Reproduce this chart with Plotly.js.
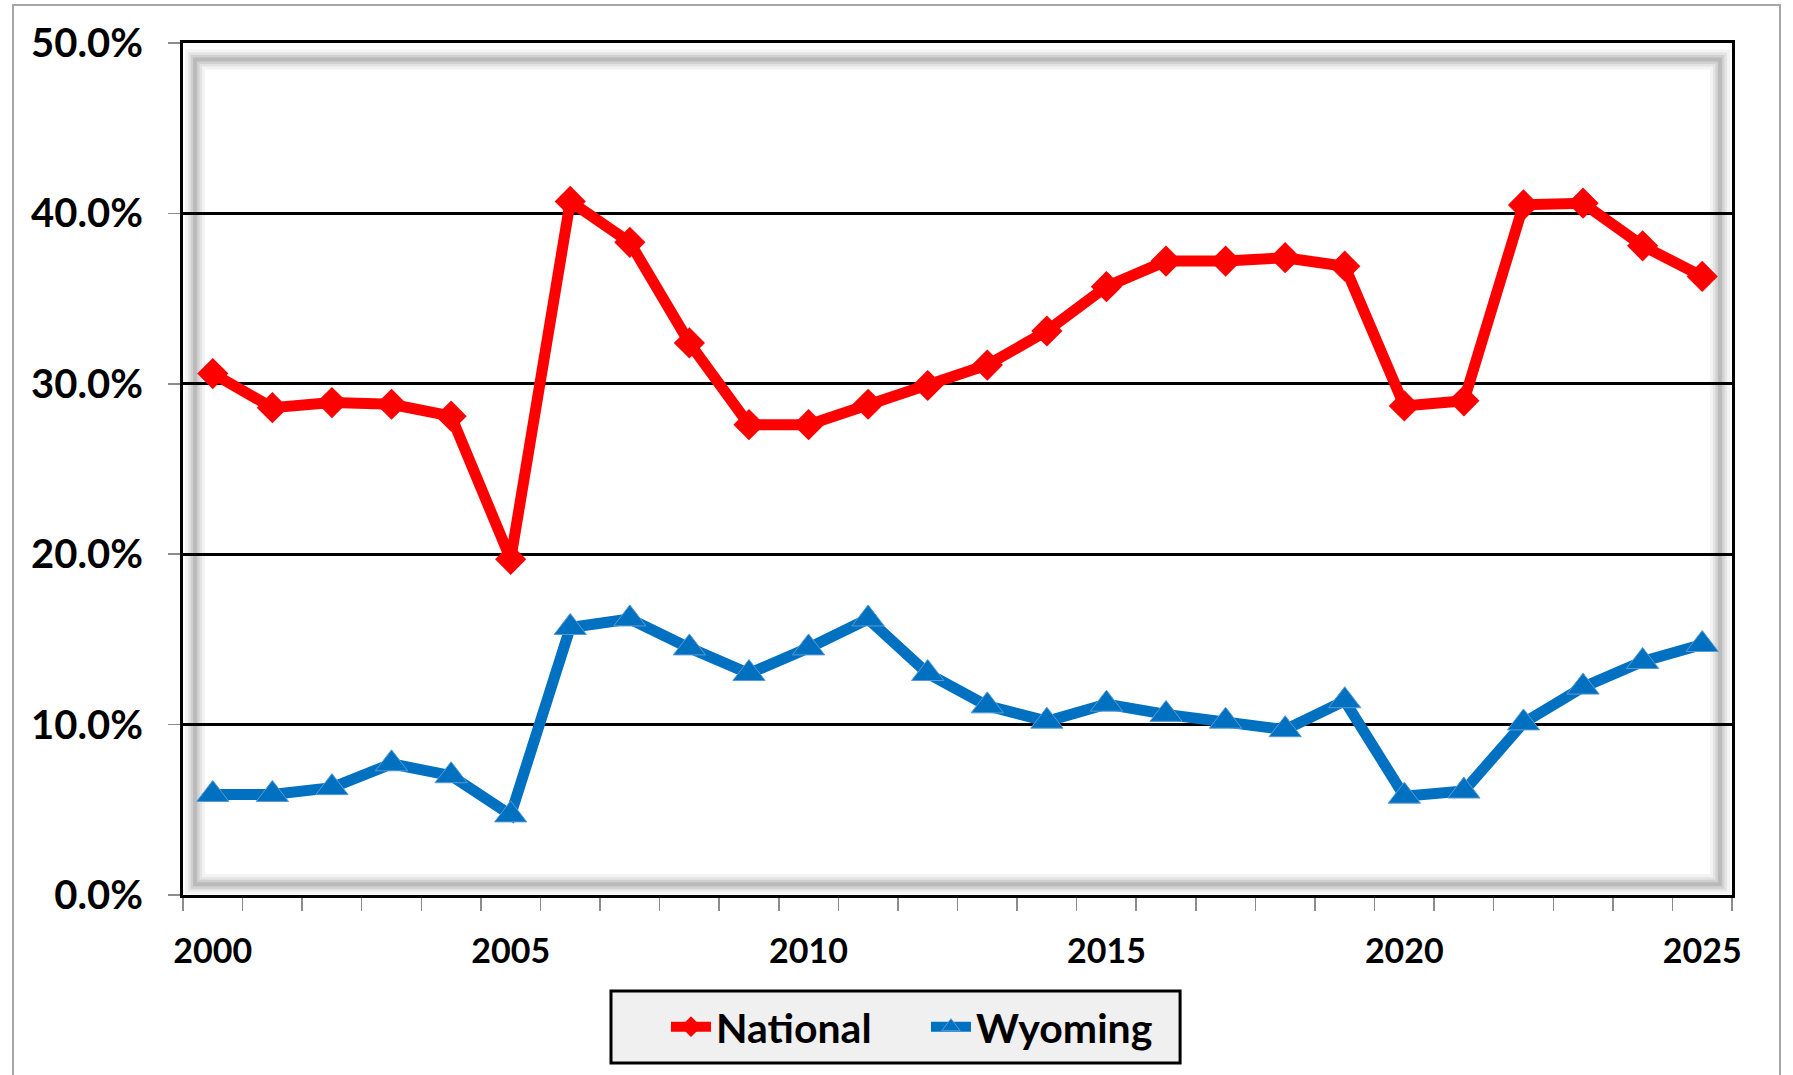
<!DOCTYPE html>
<html>
<head>
<meta charset="utf-8">
<script src="https://cdn.plot.ly/plotly-3.0.1.min.js"></script>
<style>
  html, body { margin: 0; padding: 0; background: #ffffff; overflow: hidden; }
  #wrap { position: relative; width: 1793px; height: 1075px; }
  #frame { position: absolute; left: 12px; top: 4px; width: 1765px; height: 1100px;
           border: 2px solid #a6a6a6; border-bottom: none; pointer-events: none; z-index: 2; }
  #chart { position: absolute; left: 0; top: 0; width: 1793px; height: 1075px; }
</style>
</head>
<body>
<div id="wrap">
  <div id="chart"></div>
  <div id="frame"></div>
</div>
<script>
// ---- data ----
const years = [2000, 2001, 2002, 2003, 2004, 2005, 2006, 2007, 2008, 2009, 2010, 2011, 2012,
               2013, 2014, 2015, 2016, 2017, 2018, 2019, 2020, 2021, 2022, 2023, 2024, 2025];
const national = [30.6, 28.6, 28.9, 28.8, 28.1, 19.7, 40.7, 38.3, 32.4, 27.6, 27.6, 28.8, 29.9,
                  31.1, 33.1, 35.7, 37.2, 37.2, 37.4, 36.9, 28.7, 29.0, 40.5, 40.6, 38.1, 36.3];
const wyoming = [5.9, 5.9, 6.3, 7.7, 7.0, 4.7, 15.7, 16.2, 14.5, 13.0, 14.5, 16.2, 13.0,
                 11.1, 10.2, 11.2, 10.6, 10.2, 9.7, 11.4, 5.8, 6.1, 10.1, 12.2, 13.7, 14.7];
const xTickVals = [2000, 2005, 2010, 2015, 2020, 2025];
const yTickVals = [0, 10, 20, 30, 40, 50];
const seriesNames = ['National', 'Wyoming'];

const FONT = 'Lato, "Open Sans", sans-serif';

const traces = [
  {
    x: years, y: national, name: seriesNames[0], type: 'scatter', mode: 'lines+markers',
    line: { color: '#FF0000', width: 11 },
    marker: { symbol: 'diamond', size: 24, color: '#FF0000', line: { width: 0 } }
  },
  {
    x: years, y: wyoming, name: seriesNames[1], type: 'scatter', mode: 'lines+markers',
    line: { color: '#0070C0', width: 11 },
    marker: { symbol: 'triangle-up', size: 28, color: '#0070C0', line: { width: 1, color: '#5B9BD5' } }
  }
];

// inner soft shadow frame (decoration), drawn as layered strokes
const shapes = [];
const layers = [
  { w: 20, c: 'rgba(160,160,160,0.12)' },
  { w: 14, c: 'rgba(160,160,160,0.18)' },
  { w: 9, c: 'rgba(160,160,160,0.28)' },
  { w: 4, c: 'rgba(150,150,150,0.38)' }
];
layers.forEach(l => {
  shapes.push({
    type: 'rect', layer: 'below', xref: 'x domain', yref: 'y domain',
    x0: 0.0078, x1: 0.9922, y0: 0.0125, y1: 0.9805,
    line: { color: l.c, width: l.w }, fillcolor: 'rgba(0,0,0,0)'
  });
});
// legend frame box
shapes.push({
  type: 'rect', layer: 'above', xref: 'paper', yref: 'paper',
  x0: 0.2763, x1: 0.6437, y0: -0.1127, y1: -0.1972,
  line: { color: '#000000', width: 3 }, fillcolor: '#F0F0F0'
});

const layout = {
  width: 1793, height: 1075,
  margin: { l: 183, r: 61, t: 43, b: 180 },
  paper_bgcolor: 'rgba(0,0,0,0)',
  plot_bgcolor: '#ffffff',
  font: { family: FONT, color: '#000000' },
  showlegend: true,
  legend: {
    orientation: 'h', x: 0.3118, xanchor: 'left', y: -0.155, yanchor: 'middle',
    bgcolor: 'rgba(0,0,0,0)', borderwidth: 0,
    font: { family: FONT, size: 41, weight: 'bold', color: '#000000' },
    itemwidth: 40, entrywidth: 205, entrywidthmode: 'pixels', tracegroupgap: 0
  },
  xaxis: {
    range: [1999.5, 2025.5],
    tickmode: 'array', tickvals: xTickVals, ticktext: xTickVals.map(String),
    ticks: '', ticklabelstandoff: 24,
    tickfont: { family: FONT, size: 34, weight: 'bold', color: '#000000' },
    showgrid: false, zeroline: false,
    showline: true, linecolor: '#000000', linewidth: 3, mirror: true,
    minor: { tick0: 1999.5, dtick: 1, ticks: 'outside', ticklen: 13, tickwidth: 1.5, tickcolor: '#8c8c8c', showgrid: false }
  },
  yaxis: {
    range: [0, 50],
    tickmode: 'array', tickvals: yTickVals, ticktext: yTickVals.map(v => v.toFixed(1) + '%'),
    ticks: 'outside', ticklen: 12, tickwidth: 1.5, tickcolor: '#8c8c8c',
    ticklabelstandoff: 17,
    tickfont: { family: FONT, size: 40, weight: 'bold', color: '#000000' },
    showgrid: true, gridcolor: '#000000', gridwidth: 3,
    zeroline: false,
    showline: true, linecolor: '#000000', linewidth: 3, mirror: true
  },
  shapes: shapes
};

Plotly.newPlot('chart', traces, layout, { displayModeBar: false, staticPlot: true });
</script>
</body>
</html>
